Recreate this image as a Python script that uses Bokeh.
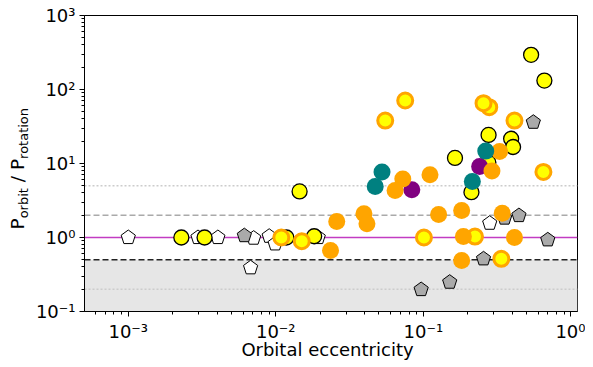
import math
from bokeh.plotting import figure
from bokeh.layouts import row, column
from bokeh.models import Span, BoxAnnotation, FixedTicker, CustomJSTickFormatter, Div
from bokeh.embed import file_html
from bokeh.resources import INLINE

# ---------------- data ----------------
white_pent_x = [0.00100, 0.00297, 0.00405, 0.00708, 0.00675, 0.00902, 0.0099, 0.0194, 0.282]
white_pent_y = [1.0, 1.0, 1.0, 0.98, 0.39, 1.04, 0.82, 1.0, 1.56]

gray_pent_x = [0.00612, 0.0967, 0.151, 0.256, 0.356, 0.445, 0.698, 0.557]
gray_pent_y = [1.06, 0.198, 0.249, 0.515, 1.83, 1.98, 0.93, 36.1]

yellow_x = [0.00229, 0.00329, 0.0118, 0.0182, 0.0145, 0.164, 0.212, 0.277, 0.394, 0.406, 0.538, 0.662, 0.276]
yellow_y = [1.0, 1.0, 1.0, 1.04, 4.19, 11.9, 4.10, 24.3, 21.6, 16.7, 294, 132, 10.3]

ringed_x = [0.0109, 0.0150, 0.101, 0.224, 0.338, 0.0552, 0.0754, 0.280, 0.256, 0.415, 0.652]
ringed_y = [1.0, 0.89, 1.0, 1.03, 0.515, 38.1, 71.0, 57.7, 65.3, 38.1, 7.68]

purple_x = [0.0836, 0.241]
purple_y = [4.41, 9.1]

orange_x = [0.0235, 0.0259, 0.0396, 0.0415, 0.0726, 0.0644, 0.111, 0.127, 0.182, 0.187, 0.182, 0.292, 0.329, 0.343, 0.415]
orange_y = [0.667, 1.64, 2.09, 1.53, 6.17, 4.32, 7.03, 2.05, 2.32, 1.03, 0.489, 7.92, 14.5, 2.13, 1.0]

teal_x = [0.0525, 0.0472, 0.215, 0.265]
teal_y = [7.68, 4.89, 5.71, 14.7]

x_major = [1e-3, 1e-2, 1e-1, 1e0]
y_major = [1e-1, 1e0, 1e1, 1e2, 1e3]

x_title = "Orbital eccentricity"
y_title_parts = ["P", "orbit", " / P", "rotation"]

XMIN, XMAX = 5.05e-4, 1.11
YMIN, YMAX = 0.1, 1000.0

FONT = "DejaVu Sans"
FS = "18px"

YDIV_W = 32
FIG_W, FIG_H = 553, 345
BL, BR, BT, BB = 49, 8, 15, 34

p = figure(width=FIG_W, height=FIG_H, x_axis_type="log", y_axis_type="log",
           x_range=(XMIN, XMAX), y_range=(YMIN, YMAX),
           output_backend="svg", toolbar_location=None,
           min_border_left=BL, min_border_right=BR, min_border_top=BT, min_border_bottom=BB)
p.background_fill_color = "white"
p.border_fill_color = "white"
p.outline_line_color = "black"
p.outline_line_width = 1
p.xgrid.visible = False
p.ygrid.visible = False

fmt = CustomJSTickFormatter(code="""
const e = Math.round(Math.log10(tick));
const sup = {"-": "\\u207b", "0": "\\u2070", "1": "\\u00b9", "2": "\\u00b2", "3": "\\u00b3",
             "4": "\\u2074", "5": "\\u2075"};
return "10" + String(e).split("").map(c => sup[c]).join("");
""")

def minors(lo, hi):
    return [m * 10.0 ** e for e in range(lo, hi) for m in range(2, 10)]

p.xaxis[0].ticker = FixedTicker(ticks=x_major, minor_ticks=minors(-4, 1))
p.yaxis[0].ticker = FixedTicker(ticks=y_major, minor_ticks=minors(-1, 3))
for ax in (p.xaxis[0], p.yaxis[0]):
    ax.formatter = fmt
    ax.major_label_text_font = FONT
    ax.major_label_text_font_size = FS
    ax.major_label_text_color = "black"
    ax.major_tick_in = 0
    ax.major_tick_out = 5
    ax.minor_tick_in = 0
    ax.minor_tick_out = 3
    ax.axis_line_color = "black"
    ax.major_tick_line_color = "black"
    ax.minor_tick_line_color = "black"
    ax.major_label_standoff = 4

# shaded region and reference lines (behind the markers)
p.add_layout(BoxAnnotation(top=0.5, fill_color="#e6e6e6", fill_alpha=1.0,
                           line_alpha=0, level="underlay"))
p.add_layout(Span(location=5, dimension="width", line_color="#cccccc",
                  line_dash="2 2", line_width=1.5, level="underlay"))
p.add_layout(Span(location=0.2, dimension="width", line_color="#cccccc",
                  line_dash="2 2", line_width=1.5, level="underlay"))
p.add_layout(Span(location=2, dimension="width", line_color="#aaaaaa",
                  line_dash="6 3", line_width=1.5, level="underlay"))
p.add_layout(Span(location=0.5, dimension="width", line_color="#222222",
                  line_dash="6 3", line_width=1.5, level="underlay"))
p.add_layout(Span(location=1, dimension="width", line_color="#c23cc2",
                  line_width=1.5, level="underlay"))

# pentagon markers (point up), built around each data point
frame_w = FIG_W - BL - BR
frame_h = FIG_H - BT - BB
ppd_x = frame_w / (math.log10(XMAX) - math.log10(XMIN))
ppd_y = frame_h / (math.log10(YMAX) - math.log10(YMIN))

def pentagons(xs, ys, fill, r=7.5):
    pxs, pys = [], []
    for xv, yv in zip(xs, ys):
        vx, vy = [], []
        for k in range(5):
            a = math.pi / 2 + 2 * math.pi * k / 5
            vx.append(xv * 10 ** (r * math.cos(a) / ppd_x))
            vy.append(yv * 10 ** (r * math.sin(a) / ppd_y))
        pxs.append(vx)
        pys.append(vy)
    p.patches(pxs, pys, fill_color=fill, line_color="black", line_width=1)

pentagons(white_pent_x, white_pent_y, "white")
pentagons(gray_pent_x, gray_pent_y, "#aaaaaa")

p.scatter(yellow_x, yellow_y, marker="circle", size=15, fill_color="#ffff00",
          line_color="black", line_width=1.3)
p.scatter(ringed_x, ringed_y, marker="circle", size=15, fill_color="#ffff00",
          line_color="#ffa500", line_width=3)
p.scatter(purple_x, purple_y, marker="circle", size=17, fill_color="#800080", line_alpha=0)
p.scatter(orange_x, orange_y, marker="circle", size=17, fill_color="#ffa500", line_alpha=0)
p.scatter(teal_x, teal_y, marker="circle", size=17, fill_color="#008080", line_alpha=0)

# y-axis title with subscripts (rotated HTML text)
sub_style = "font-size:13px; position:relative; top:3.5px;"
y_html = (
    '<div style="white-space:nowrap; font-family:\'DejaVu Sans\'; font-size:18.5px; '
    'line-height:22px; color:black; transform-origin:0 0; '
    'transform:translate(6.5px, 229.5px) rotate(-90deg);">'
    f'{y_title_parts[0]}<span style="{sub_style}">{y_title_parts[1]}</span>'
    f'{y_title_parts[2].replace(" ", "&nbsp;", 1)}<span style="{sub_style}">{y_title_parts[3]}</span>'
    '</div>'
)
ydiv = Div(text=y_html, width=YDIV_W, height=FIG_H, margin=0)

X_W = YDIV_W + FIG_W
x_html = (
    '<div style="white-space:nowrap; font-family:\'DejaVu Sans\'; font-size:18px; '
    f'line-height:18px; color:black; text-align:center; width:{X_W}px; '
    'transform:translate(35px, -4.5px);">'
    f'{x_title}</div>'
)
xdiv = Div(text=x_html, width=X_W, height=20, margin=0)

layout = column(row(ydiv, p, spacing=0), xdiv, spacing=0)

open("out.html", "w").write(file_html(layout, INLINE))
